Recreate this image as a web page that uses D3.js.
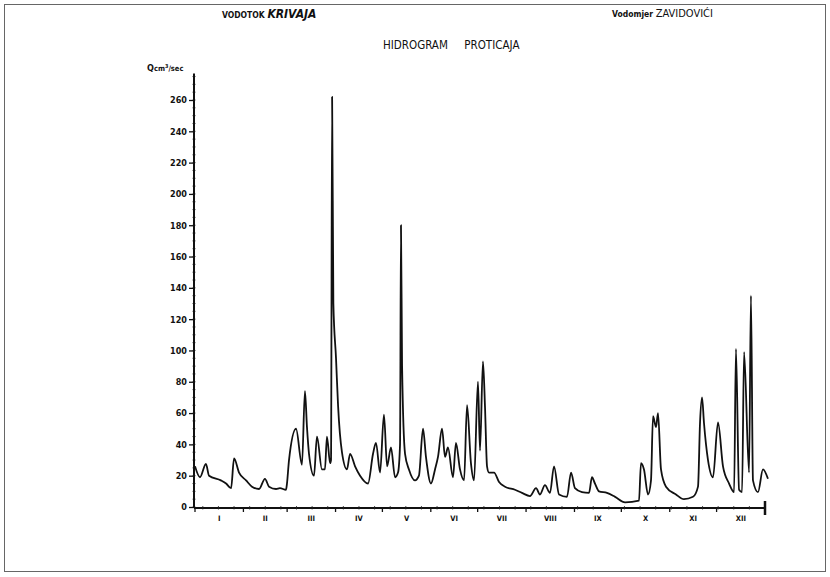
<!DOCTYPE html>
<html>
<head>
<meta charset="utf-8">
<script src="https://cdn.jsdelivr.net/npm/d3@7"></script>
<style>
	body { margin: 0; background: #fff; }
	svg { display: block; }
	.title { font-family: "DejaVu Sans Condensed", "DejaVu Sans", sans-serif; fill: #111; }
	.label { font-family: "DejaVu Sans Condensed", "DejaVu Sans", sans-serif; font-weight: bold; fill: #111; }
</style>
</head>
<body>
<div id="chart"></div>
<script>
let width = 830;
let height = 577;

let days = [0, 3.2, 7.0, 9.0, 16.6, 19.9, 23.1, 25.0, 28.2, 32.7, 36.5, 41.0, 44.8, 47.4, 51.9, 54.4,
	58.3, 58.9, 60.2, 64.7, 68.5, 70.4, 71.7, 73.0, 76.2, 78.1, 81.3, 83.2, 84.5, 86.5, 87.1, 87.8,
	88.6, 90.3, 91.6, 94.1, 97.3, 99.3, 102.5, 105.7, 110.8, 114.0, 115.9, 118.5, 121.0, 123.0, 125.5,
	128.1, 130.0, 131.3, 131.9, 132.6, 134.5, 137.0, 140.9, 143.4, 146.0, 147.9, 151.1, 153.7, 155.6,
	158.2, 160.1, 162.0, 165.2, 167.1, 169.7, 172.3, 174.2, 176.7, 178.7, 181.2, 182.5, 184.4, 185.7,
	187.0, 188.3, 191.5, 194.7, 198.5, 204.9, 209.4, 214.5, 218.4, 220.9, 224.1, 227.3, 229.9, 233.1,
	238.2, 240.8, 243.3, 247.8, 252.3, 254.2, 256.1, 258.7, 263.8, 269.0, 275.4, 284.3, 285.6, 287.5,
	290.1, 292.0, 293.3, 295.2, 296.5, 298.4, 301.6, 308.0, 313.1, 318.9, 322.1, 323.4, 324.7, 325.9,
	328.5, 331.7, 334.9, 338.1, 342.0, 345.2, 346.4, 348.4, 350.3, 351.6, 354.8, 356.0, 357.3, 360.5,
	363.7, 366.9];
let flow = [26, 19, 27.5, 20, 17, 15, 12, 31, 22, 17, 13, 11.5, 18, 13, 11.5, 12,
	11, 15, 30, 50, 27, 74, 51, 34, 20, 45, 24, 24, 45, 28, 30, 262,
	130, 95, 65, 35, 24, 34, 26, 20, 15, 34, 41, 22, 59, 26, 38,
	19, 22, 40, 180, 90, 34, 24, 17, 20, 50, 32, 15, 24, 32,
	50, 32, 38, 19, 41, 24, 17, 65, 28, 17, 80, 36, 93, 64,
	26, 22, 22, 16, 13, 11, 9, 7, 12, 8, 14, 9, 26, 8,
	6.5, 22, 12, 9.5, 9, 19, 15, 10, 9, 6.5, 3, 4, 28, 24,
	8, 17, 58, 51, 60, 24, 13, 8, 5, 6.5, 13, 54, 70, 54,
	30, 19, 54, 26, 15, 9.5, 101, 11, 9.5, 99, 22, 135, 17, 9.5,
	24, 18];

let months = ["I", "II", "III", "IV", "V", "VI", "VII", "VIII", "IX", "X", "XI", "XII"];
let monthDays = [31, 28, 31, 30, 31, 30, 31, 31, 30, 31, 30, 31];
let yTicks = [0, 20, 40, 60, 80, 100, 120, 140, 160, 180, 200, 220, 240, 260];

let svg = d3.select("#chart").append("svg")
	.attr("width", width)
	.attr("height", height);

// Scanned page frame
svg.append("rect")
	.attr("x", 4.5)
	.attr("y", 4.5)
	.attr("width", 821)
	.attr("height", 567)
	.attr("fill", "none")
	.attr("stroke", "#666")
	.attr("stroke-width", 1);

// Scales
let x = d3.scaleLinear()
	.domain([0, 365])
	.range([195, 765]);

let y = d3.scaleLinear()
	.domain([0, 260])
	.range([507, 100]);

// Month boundaries
let bounds = [0];
monthDays.forEach(function(d, i) { bounds.push(bounds[i] + d); });

// Y axis
let yAxis = d3.axisLeft(y)
	.tickValues(yTicks)
	.tickSize(5)
	.tickPadding(2)
	.tickFormat(d3.format("d"));

let gy = svg.append("g")
	.attr("transform", "translate(194,0)")
	.call(yAxis);
gy.select(".domain").remove();
gy.selectAll(".tick line").attr("stroke", "#111").attr("stroke-width", 1.3);
gy.selectAll(".tick text")
	.attr("class", "label")
	.attr("font-size", 9)
	.attr("font-family", null);

// minor ruler marks on the y axis
gy.selectAll(".minor")
	.data(d3.range(0, 276, 5))
	.enter().append("line")
	.attr("class", "minor")
	.attr("x1", -1.5)
	.attr("x2", 1.5)
	.attr("y1", function(d) { return y(d); })
	.attr("y2", function(d) { return y(d); })
	.attr("stroke", "#222")
	.attr("stroke-width", 0.8);

svg.append("line")
	.attr("x1", 194)
	.attr("x2", 194)
	.attr("y1", y(0) + 1)
	.attr("y2", y(277))
	.attr("stroke", "#111")
	.attr("stroke-width", 2);

// X axis
svg.append("line")
	.attr("x1", 194)
	.attr("x2", 766)
	.attr("y1", y(0) + 1)
	.attr("y2", y(0) + 1)
	.attr("stroke", "#111")
	.attr("stroke-width", 2);

svg.selectAll(".mtick")
	.data(bounds)
	.enter().append("line")
	.attr("class", "mtick")
	.attr("x1", function(d) { return x(d); })
	.attr("x2", function(d) { return x(d); })
	.attr("y1", function(d, i) { return i == bounds.length - 1 ? y(0) - 6 : y(0) + 1; })
	.attr("y2", function(d, i) { return i == bounds.length - 1 ? y(0) + 8 : y(0) + 5; })
	.attr("stroke", "#111")
	.attr("stroke-width", function(d, i) { return i == bounds.length - 1 ? 2.5 : 1.3; });

svg.selectAll(".xminor")
	.data(d3.range(5, 365, 10))
	.enter().append("line")
	.attr("class", "xminor")
	.attr("x1", function(d) { return x(d); })
	.attr("x2", function(d) { return x(d); })
	.attr("y1", y(0) - 1)
	.attr("y2", y(0) + 2.5)
	.attr("stroke", "#222")
	.attr("stroke-width", 0.8);

svg.selectAll(".month")
	.data(months)
	.enter().append("text")
	.attr("class", "label")
	.attr("x", function(d, i) { return x((bounds[i] + bounds[i + 1]) / 2); })
	.attr("y", 521)
	.attr("text-anchor", "middle")
	.attr("font-size", 7.5)
	.text(function(d) { return d; });

// Hydrograph line
let points = d3.zip(days, flow);
let line = d3.line()
	.x(function(d) { return x(d[0]); })
	.y(function(d) { return y(d[1]); })
	.curve(d3.curveMonotoneX);

svg.append("path")
	.datum(points)
	.attr("d", line)
	.attr("fill", "none")
	.attr("stroke", "#111")
	.attr("stroke-width", 1.8)
	.attr("stroke-linejoin", "round");

// Titles
let t1 = svg.append("text")
	.attr("class", "title")
	.attr("x", 222)
	.attr("y", 18);
t1.append("tspan").attr("font-size", 8.5).attr("font-weight", "bold").text("VODOTOK ");
t1.append("tspan").attr("font-size", 12).attr("font-style", "italic").attr("font-weight", "bold").text("KRIVAJA");

let t2 = svg.append("text")
	.attr("class", "title")
	.attr("x", 612)
	.attr("y", 17);
t2.append("tspan").attr("font-size", 8.5).attr("font-weight", "bold").text("Vodomjer ");
t2.append("tspan").attr("font-size", 11).text("ZAVIDOVIĆI");

svg.append("text")
	.attr("class", "title")
	.attr("x", 383)
	.attr("y", 49)
	.attr("font-size", 11.5)
	.attr("xml:space", "preserve")
	.text("HIDROGRAM     PROTICAJA");

let t3 = svg.append("text")
	.attr("class", "label")
	.attr("x", 147)
	.attr("y", 71)
	.attr("font-size", 9);
t3.append("tspan").text("Q");
t3.append("tspan").attr("font-size", 7.5).text("cm");
t3.append("tspan").attr("font-size", 5.5).attr("dy", -3).text("3");
t3.append("tspan").attr("font-size", 7.5).attr("dy", 3).text("/sec");
</script>
</body>
</html>
